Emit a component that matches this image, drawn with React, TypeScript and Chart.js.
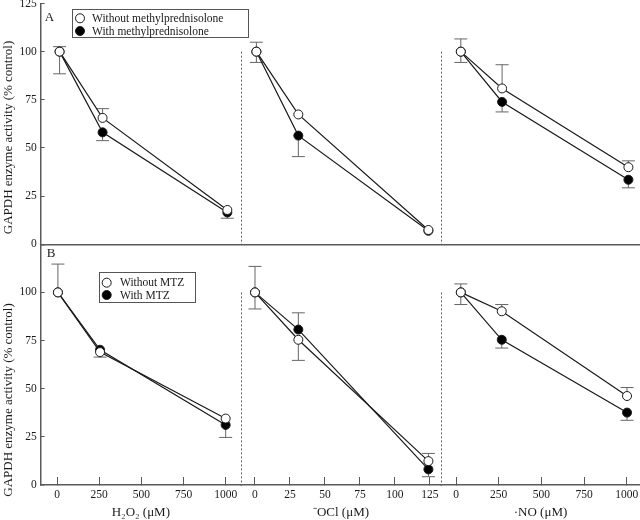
import React, { useEffect, useRef } from 'react';
import { Chart, registerables } from 'chart.js';

Chart.register(...registerables);

// ---------- categories / x positions (concentration, µM) ----------
const h2o2XA = [15, 270, 1010];
const h2o2XB = [5, 255, 1000];
const oclXA = [1, 31, 124];
const oclXB = [0, 31, 124];
const noXA = [28, 270, 1010];
const noXB = [28, 268, 1002];

// ---------- tick labels ----------
const yTicks = [0, 25, 50, 75, 100, 125];
const h2o2Ticks = [0, 250, 500, 750, 1000];
const oclTicks = [0, 25, 50, 75, 100, 125];
const noTicks = [0, 250, 500, 750, 1000];

// ---------- Panel A (methylprednisolone) values, % control ----------
const aH2O2Without = [100, 65.6, 17.8];
const aH2O2With = [100, 58.1, 16.5];
const aOClWithout = [100, 67.4, 7.4];
const aOClWith = [100, 56.4, 7.0];
const aNOWithout = [100, 80.9, 40.0];
const aNOWith = [100, 73.9, 33.5];
// signed error bars (+ upward, - downward)
const aH2O2WithoutErr = [2.6, 4.8, 0];
const aH2O2WithErr = [-11.5, -4.3, -3];
const aOClWithoutErr = [4.9, 0, 0];
const aOClWithErr = [-5.6, -10.9, 0];
const aNOWithoutErr = [6.6, 12.3, 3.3];
const aNOWithErr = [-5.6, -5.2, -4.2];

// ---------- Panel B (MTZ) values ----------
const bH2O2Without = [100, 69.0, 34.5];
const bH2O2With = [100, 70.2, 31.2];
const bOClWithout = [100, 75.4, 12.4];
const bOClWith = [100, 80.7, 8.1];
const bNOWithout = [100, 90.2, 46.2];
const bNOWith = [100, 75.4, 37.6];
const bH2O2WithoutErr = [14.7, 0, 0];
const bH2O2WithErr = [0, -3.8, -6.5];
const bOClWithoutErr = [13.5, -10.7, 4.0];
const bOClWithErr = [-8.6, 8.7, -3.8];
const bNOWithoutErr = [4.4, 3.5, 4.4];
const bNOWithErr = [-6.3, -4.3, -4.0];

// ---------- text ----------
const yTitle = 'GAPDH enzyme activity (% control)';
const xTitles = ['H\u2082O\u2082 (\u03bcM)', '\u207bOCl (\u03bcM)', '\u00b7NO (\u03bcM)'];
const legendA = ['Without methylprednisolone', 'With methylprednisolone'];
const legendB = ['Without MTZ', 'With MTZ'];
const panelLabels = ['A', 'B'];

const FAMILY = '"Liberation Serif", "Times New Roman", Times, serif';
const AXIS = '#5a5a5a';
const INK = '#1a1a1a';

function series(xs: number[], ys: number[], errs: number[], xAxisID: string, yAxisID: string, filled: boolean) {
  return {
    data: xs.map((x, i) => ({ x, y: ys[i] })),
    errs,
    xAxisID,
    yAxisID,
    borderColor: INK,
    borderWidth: 1.2,
    pointRadius: 4.5,
    pointBorderWidth: 1,
    pointBorderColor: INK,
    pointBackgroundColor: filled ? '#000' : '#fff',
    fill: false,
    tension: 0,
  };
}

const datasets = [
  series(h2o2XA, aH2O2Without, aH2O2WithoutErr, 'x1', 'yA', false),
  series(oclXA, aOClWithout, aOClWithoutErr, 'x2', 'yA', false),
  series(noXA, aNOWithout, aNOWithoutErr, 'x3', 'yA', false),
  series(h2o2XB, bH2O2Without, bH2O2WithoutErr, 'x1', 'yB', false),
  series(oclXB, bOClWithout, bOClWithoutErr, 'x2', 'yB', false),
  series(noXB, bNOWithout, bNOWithoutErr, 'x3', 'yB', false),
  series(h2o2XA, aH2O2With, aH2O2WithErr, 'x1', 'yA', true),
  series(oclXA, aOClWith, aOClWithErr, 'x2', 'yA', true),
  series(noXA, aNOWith, aNOWithErr, 'x3', 'yA', true),
  series(h2o2XB, bH2O2With, bH2O2WithErr, 'x1', 'yB', true),
  series(oclXB, bOClWith, bOClWithErr, 'x2', 'yB', true),
  series(noXB, bNOWith, bNOWithErr, 'x3', 'yB', true),
];

const errorBarPlugin = {
  id: 'errorBars',
  beforeDatasetsDraw(chart: any) {
    const ctx = chart.ctx;
    ctx.save();
    ctx.strokeStyle = '#666';
    ctx.lineWidth = 1;
    chart.data.datasets.forEach((ds: any) => {
      const xs = chart.scales[ds.xAxisID];
      const ys = chart.scales[ds.yAxisID];
      ds.data.forEach((p: any, i: number) => {
        const e = ds.errs[i];
        if (!e) return;
        const px = xs.getPixelForValue(p.x);
        const y0 = ys.getPixelForValue(p.y);
        const y1 = ys.getPixelForValue(p.y + e);
        ctx.beginPath();
        ctx.moveTo(px, y0);
        ctx.lineTo(px, y1);
        ctx.moveTo(px - 6.5, y1);
        ctx.lineTo(px + 6.5, y1);
        ctx.stroke();
      });
    });
    ctx.restore();
  },
};

const decorPlugin = {
  id: 'decor',
  afterDatasetsDraw(chart: any) {
    const ctx = chart.ctx;
    ctx.save();
    // dotted separators between the sub-panels
    ctx.strokeStyle = '#666';
    ctx.lineWidth = 1;
    ctx.setLineDash([2, 2]);
    ['yA', 'yB'].forEach((yid) => {
      const ys = chart.scales[yid];
      ['x2', 'x3'].forEach((xid) => {
        const x = Math.round(chart.scales[xid].left) + 0.5;
        ctx.beginPath();
        ctx.moveTo(x, ys.getPixelForValue(100));
        ctx.lineTo(x, ys.getPixelForValue(0));
        ctx.stroke();
      });
    });
    ctx.setLineDash([]);

    // panel letters
    ctx.fillStyle = INK;
    ctx.font = `13px ${FAMILY}`;
    ctx.textAlign = 'center';
    ctx.textBaseline = 'middle';
    ctx.fillText(panelLabels[0], 49.5, 18);
    ctx.fillText(panelLabels[1], 51, 254);

    // y-axis titles
    ctx.font = `13px ${FAMILY}`;
    [137.5, 400].forEach((cy) => {
      ctx.save();
      ctx.translate(9, cy);
      ctx.rotate(-Math.PI / 2);
      ctx.fillText(yTitle, 0, 0);
      ctx.restore();
    });

    // legends
    const drawLegend = (bx: number, by: number, bw: number, bh: number, labels: string[], mx: number, tx: number, rows: number[]) => {
      ctx.fillStyle = '#fff';
      ctx.fillRect(bx, by, bw, bh);
      ctx.strokeStyle = '#555';
      ctx.lineWidth = 1;
      ctx.strokeRect(bx, by, bw, bh);
      ctx.font = `11.5px ${FAMILY}`;
      ctx.textAlign = 'left';
      ctx.textBaseline = 'middle';
      labels.forEach((lab, i) => {
        ctx.beginPath();
        ctx.arc(mx, rows[i], 4.5, 0, Math.PI * 2);
        ctx.fillStyle = i === 0 ? '#fff' : '#000';
        ctx.fill();
        ctx.strokeStyle = INK;
        ctx.stroke();
        ctx.fillStyle = INK;
        ctx.fillText(lab, tx, rows[i] + 0.5);
      });
    };
    drawLegend(72.5, 9.5, 176, 28, legendA, 80, 92, [18.3, 31]);
    drawLegend(99.5, 272.5, 96, 30, legendB, 106.7, 120, [282.7, 295]);
    ctx.restore();
  },
};

const tickFont = { family: FAMILY, size: 11.5 };

function yScale(weight: number, isTop: boolean) {
  return {
    type: 'linear',
    position: 'left',
    stack: 'left',
    stackWeight: 1,
    weight,
    min: 0,
    max: 125,
    afterBuildTicks: (s: any) => {
      s.ticks = yTicks.map((v) => ({ value: v }));
    },
    border: { display: true, color: AXIS, width: 1.5 },
    grid: {
      drawOnChartArea: isTop,
      color: (c: any) => (c.tick && c.tick.value === 0 ? AXIS : 'rgba(0,0,0,0)'),
      lineWidth: (c: any) => (c.tick && c.tick.value === 0 ? 1.5 : 1),
      tickColor: AXIS,
      tickLength: -4,
    },
    ticks: {
      autoSkip: false,
      font: tickFont,
      color: INK,
      padding: 8,
      callback: (v: any) => (!isTop && v === 125 ? '' : String(v)),
    },
    title: { display: false },
    afterFit: (s: any) => {
      s.width = 40.7;
      s.paddingTop = 0;
      s.paddingBottom = 0;
    },
  };
}

function xScale(min: number, max: number, ticks: number[], stackWeight: number, title: string) {
  return {
    type: 'linear',
    position: 'bottom',
    stack: 'bottom',
    stackWeight,
    min,
    max,
    afterBuildTicks: (s: any) => {
      s.ticks = ticks.map((v) => ({ value: v }));
    },
    border: { display: true, color: AXIS, width: 1.5 },
    grid: { drawOnChartArea: false, color: AXIS, tickColor: AXIS, tickLength: -8, lineWidth: 1 },
    ticks: { autoSkip: false, maxRotation: 0, font: tickFont, color: INK, padding: 11, callback: (v: any) => String(v) },
    title: { display: true, text: title, color: INK, font: { family: FAMILY, size: 13 }, padding: { top: 0, bottom: 0 } },
    afterFit: (s: any) => {
      s.height = 35;
      s.paddingLeft = 0;
      s.paddingRight = 0;
    },
  };
}

export default function App() {
  const ref = useRef<HTMLCanvasElement>(null);
  useEffect(() => {
    const chart = new Chart(ref.current as HTMLCanvasElement, {
      type: 'line',
      data: { datasets: datasets as any },
      options: {
        responsive: false,
        devicePixelRatio: 1,
        animation: false,
        events: [],
        layout: { autoPadding: false, padding: { top: 3.5, left: 0, right: 0, bottom: 0 } },
        plugins: { legend: { display: false }, tooltip: { enabled: false }, title: { display: false } },
        scales: {
          yB: yScale(0, false),
          yA: yScale(1, true),
          x1: xScale(-97, 1091, h2o2Ticks, 200.3, xTitles[0]),
          x2: xScale(-10, 133, oclTicks, 200, xTitles[1]),
          x3: xScale(-88, 1078, noTicks, 199, xTitles[2]),
        } as any,
      },
      plugins: [errorBarPlugin, decorPlugin],
    } as any);
    return () => chart.destroy();
  }, []);
  return (
    <div style={{ position: 'fixed', left: 0, top: 0, width: 640, height: 520, background: '#fff' }}>
      <canvas ref={ref} width={640} height={520} style={{ display: 'block', width: 640, height: 520 }} />
    </div>
  );
}
